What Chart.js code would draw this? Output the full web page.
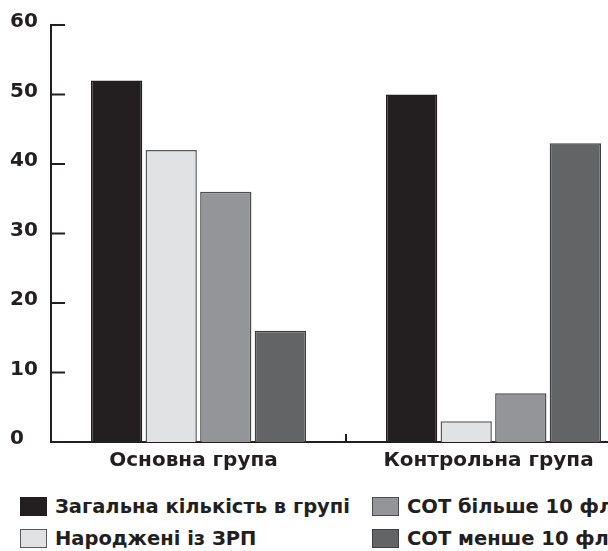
<!DOCTYPE html>
<html lang="uk">
<head>
  <meta charset="UTF-8">
  <title>Основна та контрольна група</title>
  <script src="https://cdn.jsdelivr.net/npm/chart.js"></script>
  <style>
    body { margin: 0; width: 608px; height: 551px; overflow: hidden; background: #fff; font-family: "DejaVu Sans", sans-serif; }
    #wrap { position: relative; width: 650px; height: 490px; }
    #legend { position: absolute; left: 20px; top: 497px; width: 720px; display: grid; grid-template-columns: 352px 360px; row-gap: 13px; }
    .item { display: flex; align-items: center; height: 19px; font-weight: bold; font-size: 19.5px; color: #231f20; white-space: nowrap; }
    .box { width: 25px; height: 17px; margin-right: 8px; border: 1px solid #231f20; }
  </style>
</head>
<body>
  <div id="wrap"><canvas id="groupChart"></canvas></div>
  <div id="legend"></div>

  <script>
    // data
    const groups = ['Основна група', 'Контрольна група'];
    const seriesNames = ['Загальна кількість в групі', 'Народжені із ЗРП', 'СОТ більше 10 фл', 'СОТ менше 10 фл'];
    const totalInGroup = [52, 50];
    const bornWithZRP = [42, 3];
    const sotOver10 = [36, 7];
    const sotUnder10 = [16, 43];
    const yTicks = [0, 10, 20, 30, 40, 50, 60];

    const fills = ['#231f20', '#e1e2e3', '#939598', '#636466'];
    const borders = ['#231f20', '#58595b', '#4d4d4f', '#3f3f41'];
    const ink = '#231f20';
    const font = { family: '"DejaVu Sans", sans-serif', size: 20, weight: 'bold' };

    const values = [totalInGroup, bornWithZRP, sotOver10, sotUnder10];

    // inward tick marks like the printed figure
    const innerTicks = {
      id: 'innerTicks',
      afterDraw(chart) {
        const { ctx, chartArea, scales: { x, y } } = chart;
        ctx.save();
        ctx.strokeStyle = ink;
        ctx.lineWidth = 2;
        yTicks.forEach(v => {
          const py = y.getPixelForValue(v);
          if (v === 0) return;
          ctx.beginPath();
          ctx.moveTo(chartArea.left, py);
          ctx.lineTo(chartArea.left + 14, py);
          ctx.stroke();
        });
        for (let i = 0; i < groups.length - 1; i++) {
          const px = (x.getPixelForTick(i) + x.getPixelForTick(i + 1)) / 2;
          ctx.beginPath();
          ctx.moveTo(px, chartArea.bottom);
          ctx.lineTo(px, chartArea.bottom - 8);
          ctx.stroke();
        }
        ctx.restore();
      }
    };

    const chart = new Chart(document.getElementById('groupChart'), {
      type: 'bar',
      data: {
        labels: groups,
        datasets: seriesNames.map((name, i) => ({
          label: name,
          data: values[i],
          backgroundColor: fills[i],
          borderColor: borders[i],
          borderWidth: 1.5,
          categoryPercentage: 0.74,
          barPercentage: 0.94
        }))
      },
      options: {
        responsive: true,
        maintainAspectRatio: false,
        animation: false,
        layout: { padding: { left: 10, top: 25, right: 9, bottom: 10 } },
        plugins: { legend: { display: false }, tooltip: { enabled: false } },
        scales: {
          x: {
            grid: { display: false, drawTicks: false },
            border: { display: true, color: ink, width: 2 },
            ticks: { color: ink, font: font, padding: 7, labelOffset: -5 },
            afterFit: s => { s.height = 38; }
          },
          y: {
            min: 0,
            max: 60,
            grid: { display: false, drawTicks: false },
            border: { display: true, color: ink, width: 2 },
            ticks: { stepSize: 10, color: ink, font: font, crossAlign: 'far', labelOffset: -3 },
            afterFit: s => { s.width = 41; }
          }
        }
      },
      plugins: [innerTicks]
    });

    // legend in two columns, as in the figure
    const legend = document.getElementById('legend');
    [0, 2, 1, 3].forEach(i => {
      const ds = chart.data.datasets[i];
      const item = document.createElement('div');
      item.className = 'item';
      const box = document.createElement('span');
      box.className = 'box';
      box.style.background = ds.backgroundColor;
      box.style.borderColor = ds.borderColor;
      item.appendChild(box);
      item.appendChild(document.createTextNode(ds.label));
      legend.appendChild(item);
    });
  </script>
</body>
</html>
